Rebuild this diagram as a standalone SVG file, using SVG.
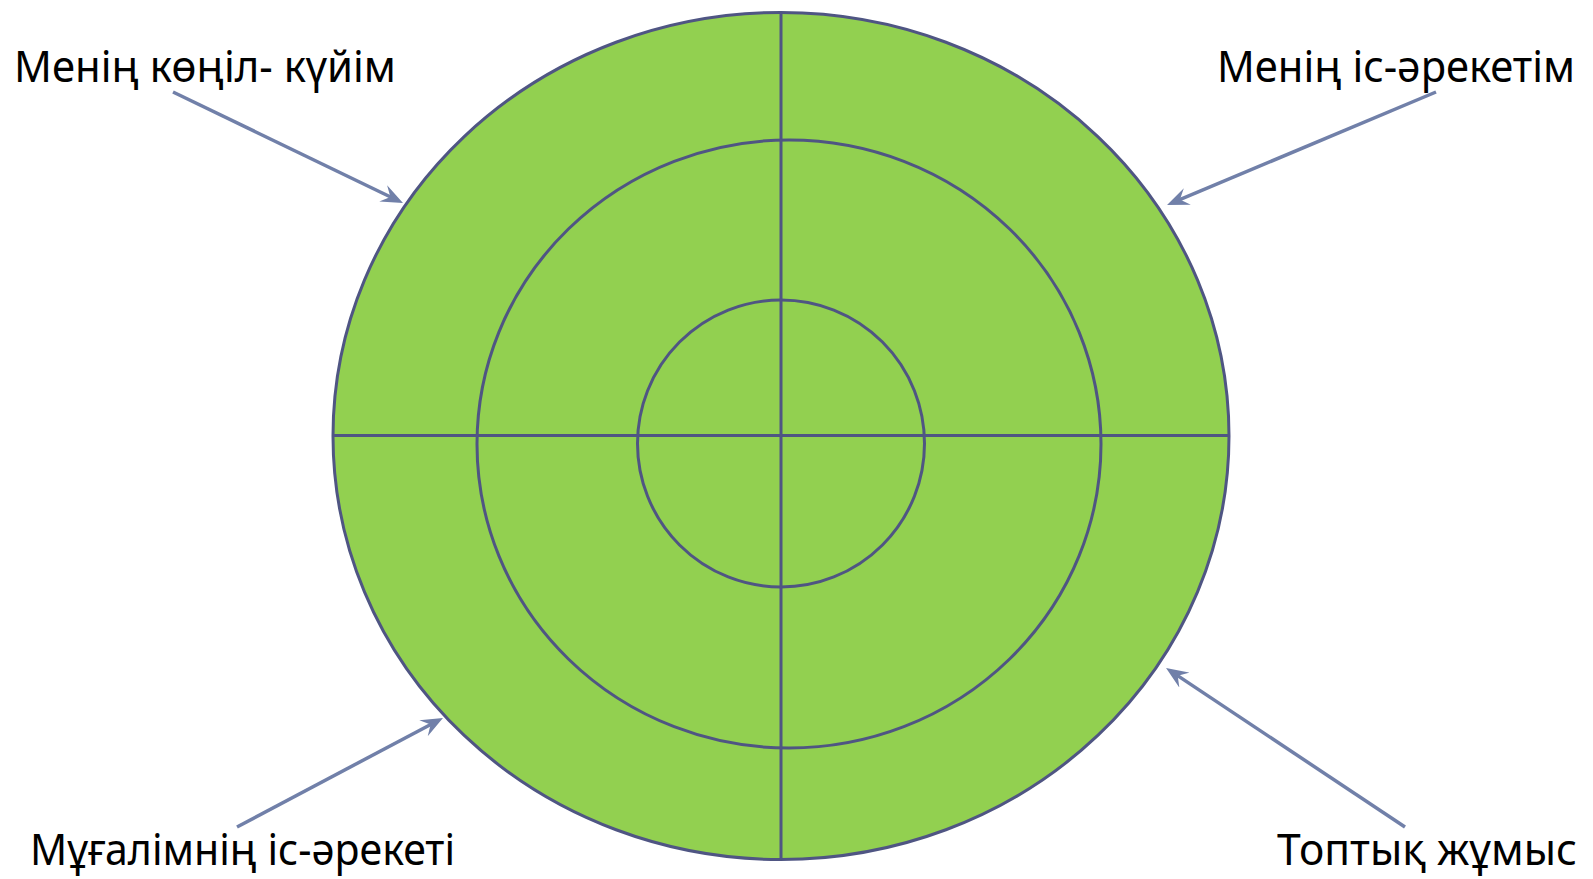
<svg xmlns="http://www.w3.org/2000/svg" width="1593" height="879" viewBox="0 0 1593 879">
<style>
.ring{fill:#92d050;stroke:#4f5583;stroke-width:3}
.axis{stroke:#4f5583;stroke-width:3;fill:none}
.conn{stroke:#7180a9;stroke-width:3.5;fill:none;marker-end:url(#ah)}
.lbl{font-family:"Noto Sans","Open Sans",sans-serif;font-size:43px;fill:#000}
</style>
<defs>
<marker id="ah" markerUnits="userSpaceOnUse" markerWidth="22" markerHeight="18" viewBox="0 0 22 18" refX="14" refY="9" orient="auto">
<path d="M0,0 L22,9 L0,18 L8,9 Z" fill="#7180a9"/>
</marker>
</defs>
<rect width="1593" height="879" fill="#fff"/>
<g id="target">
<ellipse class="ring" cx="781" cy="436" rx="448" ry="423.5"/>
<ellipse class="ring" cx="789" cy="444" rx="312" ry="304"/>
<ellipse class="ring" cx="781" cy="443.5" rx="143.5" ry="143.5"/>
<line class="axis" x1="333" y1="435.5" x2="1229" y2="435.5"/>
<line class="axis" x1="781" y1="12.5" x2="781" y2="859.5"/>
</g>
<g id="label-mood"><text class="lbl" x="14" y="82" textLength="382" lengthAdjust="spacingAndGlyphs">Менің көңіл- күйім</text></g>
<g id="label-my-action"><text class="lbl" x="1217" y="82" textLength="358" lengthAdjust="spacingAndGlyphs">Менің іс-әрекетім</text></g>
<g id="label-teacher"><text class="lbl" x="30" y="865" textLength="425" lengthAdjust="spacingAndGlyphs">Мұғалімнің іс-әрекеті</text></g>
<g id="label-group"><text class="lbl" x="1277" y="865" textLength="300" lengthAdjust="spacingAndGlyphs">Топтық жұмыс</text></g>
<g id="connectors">
<line class="conn" x1="173" y1="92" x2="395.8" y2="199.5"/>
<line class="conn" x1="1436" y1="92" x2="1174.4" y2="201.9"/>
<line class="conn" x1="237" y1="827" x2="435.9" y2="721.7"/>
<line class="conn" x1="1405" y1="827" x2="1172.7" y2="672.4"/>
</g>
</svg>
